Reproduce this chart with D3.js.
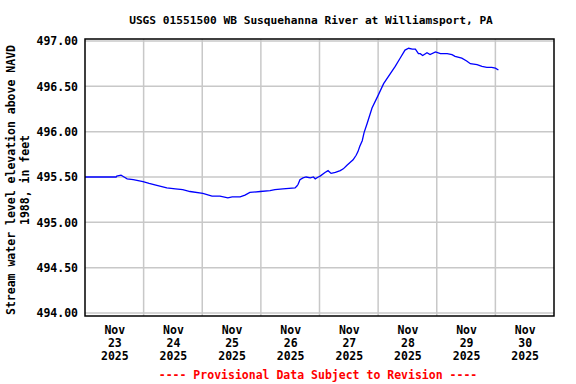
<!DOCTYPE html>
<html lang="en">
  <head>
    <meta charset="utf-8">
    <title>USGS 01551500 WB Susquehanna River at Williamsport, PA</title>
    <style>
        body { margin: 0; background: #fff; }
        svg { display: block; }
        text { font-family: "DejaVu Sans Mono", monospace; font-weight: bold; }
    </style>
    <script src="https://d3js.org/d3.v7.min.js"></script>
  </head>
  <body>
    <script>
    // gage height readings, 15-minute series sampled off the plot
    const times = [
        "11-23 00:00","11-23 12:45","11-23 13:00","11-23 14:45","11-23 16:00","11-23 17:15",
        "11-23 19:45","11-23 23:45","11-24 02:15","11-24 05:00","11-24 09:30","11-24 13:00",
        "11-24 16:00","11-24 19:00","11-25 00:15","11-25 04:00","11-25 07:15","11-25 10:30",
        "11-25 12:15","11-25 15:30","11-25 17:30","11-25 19:30","11-25 23:45","11-26 03:45",
        "11-26 05:45","11-26 09:00","11-26 14:00","11-26 14:45","11-26 15:15","11-26 16:00",
        "11-26 17:15","11-26 18:30","11-26 20:15","11-26 21:30","11-26 22:15","11-26 23:30",
        "11-27 00:15","11-27 02:15","11-27 03:30","11-27 04:45","11-27 06:30","11-27 08:30",
        "11-27 09:45","11-27 11:15","11-27 12:30","11-27 13:45","11-27 15:00","11-27 15:45",
        "11-27 16:30","11-27 17:30","11-27 18:15","11-27 19:30","11-27 21:30","11-28 00:00",
        "11-28 02:15","11-28 05:00","11-28 07:00","11-28 09:00","11-28 11:00","11-28 12:30",
        "11-28 14:00","11-28 15:15","11-28 16:30","11-28 17:15","11-28 18:15","11-28 20:00",
        "11-28 21:15","11-28 23:30","11-29 01:30","11-29 04:15","11-29 06:15","11-29 07:30",
        "11-29 10:15","11-29 12:15","11-29 13:45","11-29 16:30","11-29 18:30","11-29 20:30",
        "11-29 22:30","11-30 00:00","11-30 01:15"
    ];
    const levels = [
        495.50,495.50,495.51,495.52,495.50,495.48,
        495.47,495.45,495.43,495.41,495.38,495.37,
        495.36,495.34,495.32,495.29,495.29,495.27,
        495.28,495.28,495.30,495.33,495.34,495.35,
        495.36,495.37,495.38,495.40,495.42,495.47,
        495.49,495.50,495.49,495.50,495.48,495.50,
        495.51,495.55,495.57,495.54,495.55,495.57,
        495.59,495.63,495.66,495.69,495.74,495.78,
        495.84,495.90,495.99,496.09,496.26,496.40,
        496.53,496.64,496.72,496.81,496.90,496.92,
        496.91,496.91,496.86,496.86,496.84,496.87,
        496.85,496.88,496.86,496.86,496.85,496.83,
        496.81,496.78,496.75,496.74,496.72,496.71,
        496.71,496.70,496.68
    ];
    const yTicks = [494, 494.5, 495, 495.5, 496, 496.5, 497];
    const dayTicks = ["11-23","11-24","11-25","11-26","11-27","11-28","11-29","11-30"];

    const W = 576, H = 384;
    const box = { left: 85, right: 554, top: 39, bottom: 316 };

    const parse = d3.timeParse("%Y-%m-%d %H:%M");
    const parseDay = d3.timeParse("%Y-%m-%d");
    const data = times.map((t, i) => ({ t: parse("2025-" + t), v: levels[i] }));

    const x = d3.scaleTime()
        .domain([parseDay("2025-11-23"), parseDay("2025-12-01")])
        .range([box.left, box.right]);

    const y = d3.scaleLinear()
        .domain([494, 497])
        .range([313, 41]);

    const svg = d3.select("body")
        .append("svg")
        .attr("width", W)
        .attr("height", H);

    svg.append("rect").attr("width", W).attr("height", H).attr("fill", "#fff");

    // grid
    svg.append("g")
        .selectAll("line")
        .data(yTicks)
        .join("line")
        .attr("x1", box.left).attr("x2", box.right)
        .attr("y1", d => y(d)).attr("y2", d => y(d))
        .attr("stroke", "#c8c8c8").attr("stroke-width", 1.5);

    const midnights = d3.timeDay.range(parseDay("2025-11-24"), parseDay("2025-12-01"));
    svg.append("g")
        .selectAll("line")
        .data(midnights)
        .join("line")
        .attr("x1", d => x(d)).attr("x2", d => x(d))
        .attr("y1", box.top).attr("y2", box.bottom)
        .attr("stroke", "#c8c8c8").attr("stroke-width", 1.5);

    // y axis labels
    const yAxis = svg.append("g")
        .attr("transform", `translate(${box.left},0)`)
        .call(d3.axisLeft(y).tickValues(yTicks).tickSize(0).tickPadding(7).tickFormat(d3.format(".2f")))
        .call(g => g.select(".domain").remove());
    yAxis.selectAll("text")
        .attr("fill", "#000")
        .style("font-size", "11.5px")
        .style("font-family", "DejaVu Sans Mono")
        .style("font-weight", "bold");

    // x axis labels, centred at noon of each day
    const noons = dayTicks.map(d => d3.timeHour.offset(parseDay("2025-" + d), 12));
    const xAxis = svg.append("g")
        .attr("transform", `translate(0,${box.bottom})`)
        .call(d3.axisBottom(x).tickValues(noons).tickSize(0).tickFormat(""))
        .call(g => g.select(".domain").remove());
    xAxis.selectAll(".tick text")
        .attr("y", 0)
        .attr("dy", null)
        .style("font-size", "11.5px")
        .style("font-family", "DejaVu Sans Mono")
        .style("font-weight", "bold")
        .attr("fill", "#000")
        .each(function(d) {
            const t = d3.select(this);
            [d3.timeFormat("%b")(d), d3.timeFormat("%d")(d), d3.timeFormat("%Y")(d)].forEach((s, i) => {
                t.append("tspan").attr("x", 0).attr("y", 18 + i * 13).text(s);
            });
        });

    // the series
    const line = d3.line()
        .x(d => x(d.t))
        .y(d => y(d.v));

    svg.append("path")
        .datum(data)
        .attr("fill", "none")
        .attr("stroke", "#0000ff")
        .attr("stroke-width", 1.3)
        .attr("d", line);

    // frame
    svg.append("rect")
        .attr("x", box.left).attr("y", box.top)
        .attr("width", box.right - box.left).attr("height", box.bottom - box.top)
        .attr("fill", "none").attr("stroke", "#000").attr("stroke-width", 1.5);

    svg.append("text")
        .attr("x", 311).attr("y", 24)
        .attr("text-anchor", "middle")
        .style("font-size", "11.2px")
        .text("USGS 01551500 WB Susquehanna River at Williamsport, PA");

    const yt = svg.append("text")
        .attr("transform", "translate(0,180) rotate(-90)")
        .attr("text-anchor", "middle")
        .style("font-size", "11.5px");
    yt.append("tspan").attr("x", 0).attr("y", 15).text("Stream water level elevation above NAVD");
    yt.append("tspan").attr("x", 0).attr("y", 29).text("1988, in feet");

    svg.append("text")
        .attr("x", 318).attr("y", 379)
        .attr("text-anchor", "middle")
        .attr("fill", "#ff0000")
        .style("font-size", "11.5px")
        .text("---- Provisional Data Subject to Revision ----");
    </script>
  </body>
</html>
